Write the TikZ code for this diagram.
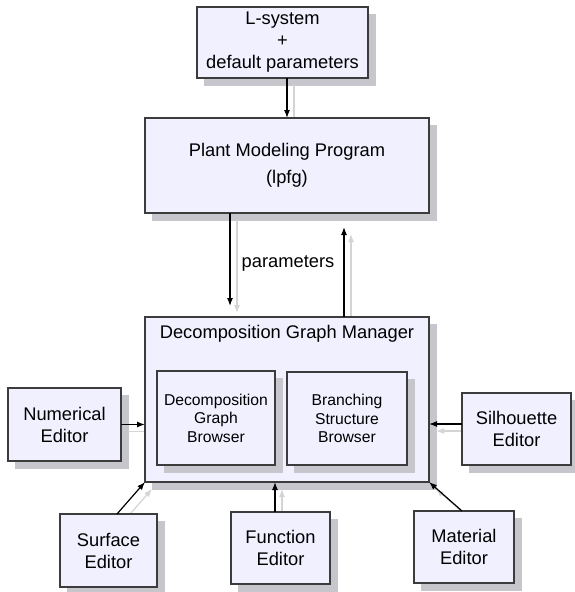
\documentclass[tikz,border=0pt]{standalone}
\usepackage{fontspec}
\setmainfont{Liberation Sans}
\usetikzlibrary{arrows.meta}
\pgfdeclarelayer{background}
\pgfsetlayers{background,main}
\definecolor{boxfill}{RGB}{240,240,255}
\definecolor{boxline}{RGB}{60,60,60}
\definecolor{dropfill}{RGB}{198,198,204}
\definecolor{arrgray}{RGB}{212,212,212}
\begin{document}
\begin{tikzpicture}[x=1pt,y=-1pt,inner sep=0pt,outer sep=0pt,
box/.style={draw=boxline,fill=boxfill,line width=1.2pt,align=center,font=\fontsize{18.3}{22}\selectfont},
subbox/.style={box,font=\fontsize{15.7}{18.5}\selectfont},
boxshadow/.style={draw=dropfill,line width=0.1pt,fill=dropfill},
arr/.style={line width=1.2pt,-{Latex[length=8pt,width=6pt]}},
arrshade/.style={arr,draw=arrgray,transform canvas={xshift=7pt,yshift=-7pt}}]
\useasboundingbox (0,0) rectangle (575,592);
\draw (282.5,42.5) node[box,minimum width=171pt,minimum height=71pt] (lsys) {L-system\\+\\default parameters};
\draw (287,165.5) node[box,minimum width=284pt,minimum height=95pt] (plant) {Plant Modeling Program\\[5pt](lpfg)};
\draw (287,399.5) node[box,minimum width=284pt,minimum height=165pt] (dgm) {};
\draw (287,334) node[font=\fontsize{18.3}{22}\selectfont] (dgmtitle) {Decomposition Graph Manager};
\draw[boxshadow] (164,378) rectangle (282,472);
\draw[boxshadow] (294,379) rectangle (414,472);
\draw (216,418) node[subbox,minimum width=118pt,minimum height=94pt] (dgb) {Decomposition\\Graph\\Browser};
\draw (347,418.5) node[subbox,minimum width=120pt,minimum height=93pt] (bsb) {Branching\\Structure\\Browser};
\draw (64.5,424.5) node[box,minimum width=113pt,minimum height=73pt] (numed) {Numerical\\Editor};
\draw (516.5,429) node[box,minimum width=109pt,minimum height=72pt] (silhed) {Silhouette\\Editor};
\draw (108.5,550.5) node[box,minimum width=97pt,minimum height=73pt] (surfed) {Surface\\Editor};
\draw (280.5,548) node[box,minimum width=99pt,minimum height=72pt] (funced) {Function\\Editor};
\draw (464,547) node[box,minimum width=100pt,minimum height=72pt] (mated) {Material\\Editor};
\draw (288,263) node[font=\fontsize{18.3}{22}\selectfont] (paramlbl) {parameters};
\begin{pgfonlayer}{background}
\foreach \n in {lsys,plant,dgm,numed,silhed,surfed,funced,mated}
  \draw[boxshadow] ([shift={(7pt,-7pt)}]\n.south west) rectangle ([shift={(7pt,-7pt)}]\n.north east);
\draw[arrshade] (lsys.south -| plant.north) -- (plant.north);
\draw[arrshade] ([xshift=-57pt]plant.south) -- ([xshift=-57pt,yshift=11pt]dgm.north);
\draw[arrshade] ([xshift=57pt]dgm.north) -- ([xshift=57pt,yshift=-14pt]plant.south);
\draw[arrshade] (numed.east) -- (numed.east -| dgm.west);
\draw[arrshade] ([yshift=5pt]silhed.west) -- ([yshift=5pt]silhed.west -| dgm.east);
\draw[arrshade] ([xshift=8.5pt]surfed.north) -- (dgm.south west);
\draw[arrshade] ([xshift=-5.5pt]funced.north) -- ([xshift=-5.5pt]funced.north |- dgm.south);
\draw[arrshade] ([xshift=-2pt]mated.north) -- (dgm.south east);
\end{pgfonlayer}
\draw[arr] (lsys.south -| plant.north) -- (plant.north);
\draw[arr] ([xshift=-57pt]plant.south) -- ([xshift=-57pt,yshift=11pt]dgm.north);
\draw[arr] ([xshift=57pt]dgm.north) -- ([xshift=57pt,yshift=-14pt]plant.south);
\draw[arr] (numed.east) -- (numed.east -| dgm.west);
\draw[arr] ([yshift=5pt]silhed.west) -- ([yshift=5pt]silhed.west -| dgm.east);
\draw[arr] ([xshift=8.5pt]surfed.north) -- (dgm.south west);
\draw[arr] ([xshift=-5.5pt]funced.north) -- ([xshift=-5.5pt]funced.north |- dgm.south);
\draw[arr] ([xshift=-2pt]mated.north) -- (dgm.south east);
\end{tikzpicture}
\end{document}
